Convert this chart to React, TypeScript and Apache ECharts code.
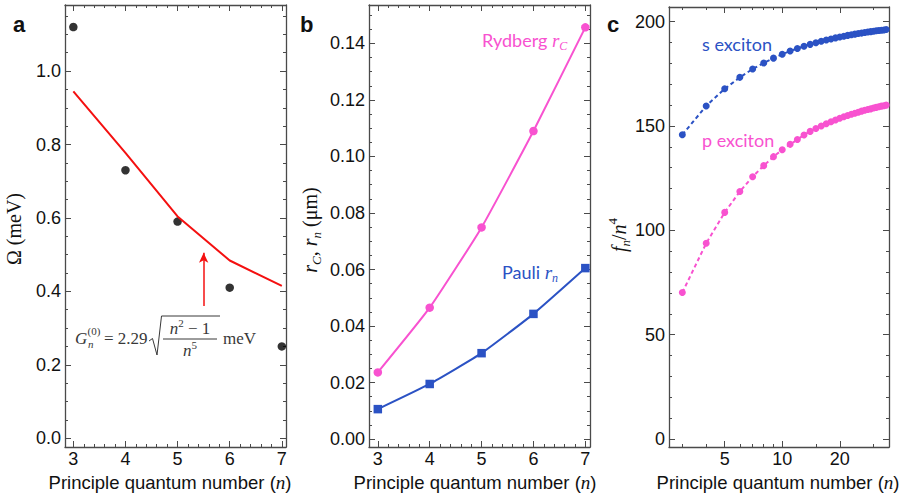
import { useEffect, useRef } from 'react';
import * as echarts from 'echarts';

// ---------- data ----------
const aN = [3, 4, 5, 6, 7];
const aOmega = [1.12, 0.73, 0.59, 0.41, 0.25];
const aG = [0.945, 0.777, 0.604, 0.484, 0.415];

const bN = [3, 4, 5, 6, 7];
const bRydberg = [0.0236, 0.0465, 0.0749, 0.109, 0.1457];
const bPauli = [0.0106, 0.0195, 0.0304, 0.0443, 0.0605];

const cN = [3, 4, 5, 6, 7, 8, 9, 10, 11, 12, 13, 14, 15, 16, 17, 18, 19, 20, 21, 22, 23, 24, 25, 26, 27, 28, 29, 30, 31, 32, 33, 34, 35];
const cS = [145.8, 159.6, 167.8, 173.3, 177.3, 180.2, 182.5, 184.4, 185.9, 187.1, 188.2, 189.1, 189.9, 190.6, 191.2, 191.7, 192.2, 192.6, 193.0, 193.4, 193.7, 194.0, 194.3, 194.5, 194.8, 195.0, 195.2, 195.4, 195.6, 195.7, 195.9, 196.0, 196.2];
const cP = [70.2, 93.8, 108.6, 118.6, 125.7, 131.0, 135.3, 138.6, 141.2, 143.5, 145.7, 147.4, 148.8, 150.0, 151.1, 152.0, 152.9, 153.7, 154.4, 155.0, 155.6, 156.1, 156.6, 157.1, 157.5, 157.9, 158.2, 158.6, 158.9, 159.2, 159.5, 159.7, 160.0];

const aXTicks = [3, 4, 5, 6, 7];
const aYTicks = [0, 0.2, 0.4, 0.6, 0.8, 1.0];
const bXTicks = [3, 4, 5, 6, 7];
const bYTicks = [0, 0.02, 0.04, 0.06, 0.08, 0.1, 0.12, 0.14];
const cXTicks = [5, 10, 20];
const cXMinorTicks = [3, 4, 6, 7, 8, 9, 15, 30];
const cYTicks = [0, 50, 100, 150, 200];

// ---------- style ----------
const FRAME = '#4a4a4a';
const BLUE = '#2B52C4';
const PINK = '#F852D0';
const RED = '#F41010';
const SANS = '"Liberation Sans", Arial, sans-serif';
const SERIF = '"Liberation Serif", "Times New Roman", serif';
const HUM = 'Lato, "Open Sans", sans-serif';

function steps(lo: number, hi: number, step: number): number[] {
  const out: number[] = [];
  const n = Math.round((hi - lo) / step);
  for (let i = 0; i <= n; i++) out.push(+(lo + i * step).toFixed(6));
  return out;
}

function axisSet(kind: 'x' | 'y', grid: number, min: number, max: number, major: number[], minor: number[], fmt: (v: number) => string) {
  const pos = kind === 'x' ? ['bottom', 'top'] : ['left', 'right'];
  const res: any[] = [];
  pos.forEach((p, idx) => {
    const primary = idx === 0;
    res.push({
      type: 'value', gridIndex: grid, position: p, min, max,
      axisLine: { show: true, onZero: false, lineStyle: { color: FRAME, width: 1.3 } },
      axisTick: { show: true, inside: true, length: 6, customValues: major, lineStyle: { color: FRAME, width: 1 } },
      axisLabel: {
        show: primary, customValues: major, formatter: fmt,
        margin: kind === 'x' ? 3 : 4, color: '#111', fontSize: 18, fontFamily: SANS,
      },
      splitLine: { show: false },
    });
    res.push({
      type: 'value', gridIndex: grid, position: p, min, max,
      axisLine: { show: false, onZero: false },
      axisTick: { show: true, inside: true, length: 3, customValues: minor, lineStyle: { color: FRAME, width: 1 } },
      axisLabel: { show: false },
      splitLine: { show: false },
    });
  });
  return res;
}

const INK = '#111';
const richBase = {
  n: { fontFamily: SERIF, fontSize: 20, fill: INK, lineHeight: 26 },
  i: { fontFamily: SERIF, fontSize: 20, fontStyle: 'italic', fill: INK, lineHeight: 26 },
  sub: { fontFamily: SERIF, fontSize: 13, fontStyle: 'italic', fill: INK, lineHeight: 14, verticalAlign: 'bottom' },
  sup: { fontFamily: SERIF, fontSize: 13, fill: INK, lineHeight: 14, verticalAlign: 'top' },
};

function xName(cx: number) {
  return {
    type: 'text', x: cx, y: 482,
    style: {
      text: '{s|Principle quantum number (}{i|n}{s|)}',
      align: 'center', verticalAlign: 'middle',
      rich: {
        s: { fontFamily: SANS, fontSize: 18.5, fill: INK, lineHeight: 24 },
        i: { fontFamily: SERIF, fontSize: 19, fontStyle: 'italic', fill: INK, lineHeight: 24 },
      },
    },
  };
}

function yName(cx: number, cy: number, text: string) {
  return {
    type: 'text', x: cx, y: cy, rotation: Math.PI / 2,
    style: { text, align: 'center', verticalAlign: 'middle', rich: richBase },
  };
}

function letter(x: number, t: string) {
  return { type: 'text', x, y: 24, style: { text: t, font: `bold 22px ${SANS}`, fill: INK, verticalAlign: 'middle' } };
}

const FC = '#383838';
const formula = [
  { type: 'text', x: 75, y: 338, style: { text: 'G', font: `italic 17px ${SERIF}`, fill: FC, verticalAlign: 'middle' } },
  { type: 'text', x: 87.5, y: 331, style: { text: '(0)', font: `11px ${SERIF}`, fill: FC, verticalAlign: 'middle' } },
  { type: 'text', x: 88, y: 344, style: { text: 'n', font: `italic 11px ${SERIF}`, fill: FC, verticalAlign: 'middle' } },
  { type: 'text', x: 104, y: 338, style: { text: '= 2.29', font: `17px ${SERIF}`, fill: FC, verticalAlign: 'middle' } },
  { type: 'polyline', shape: { points: [[149, 341], [152.5, 338.5], [157, 355], [161.5, 316], [220, 316]] }, style: { stroke: FC, lineWidth: 1, fill: 'none' } },
  {
    type: 'text', x: 190, y: 328,
    style: {
      text: '{i|n}{sup|2}{r| − 1}', align: 'center', verticalAlign: 'middle',
      rich: {
        i: { fontFamily: SERIF, fontStyle: 'italic', fontSize: 17, fill: FC, lineHeight: 22 },
        sup: { fontFamily: SERIF, fontSize: 11, fill: FC, lineHeight: 12, verticalAlign: 'top' },
        r: { fontFamily: SERIF, fontSize: 17, fill: FC, lineHeight: 22 },
      },
    },
  },
  { type: 'line', shape: { x1: 163, y1: 339, x2: 217, y2: 339 }, style: { stroke: FC, lineWidth: 1 } },
  {
    type: 'text', x: 190, y: 350,
    style: {
      text: '{i|n}{sup|5}', align: 'center', verticalAlign: 'middle',
      rich: {
        i: { fontFamily: SERIF, fontStyle: 'italic', fontSize: 17, fill: FC, lineHeight: 22 },
        sup: { fontFamily: SERIF, fontSize: 11, fill: FC, lineHeight: 12, verticalAlign: 'top' },
      },
    },
  },
  { type: 'text', x: 223, y: 338, style: { text: 'meV', font: `17px ${SERIF}`, fill: FC, verticalAlign: 'middle' } },
];

function seriesLabel(x: number, y: number, text: string, color: string) {
  return {
    type: 'text', x, y,
    style: {
      text, verticalAlign: 'middle', fill: color,
      rich: {
        t: { fontFamily: HUM, fontSize: 18, fill: color, lineHeight: 24 },
        i: { fontFamily: SERIF, fontStyle: 'italic', fontSize: 19, fill: color, lineHeight: 24 },
        sub: { fontFamily: SERIF, fontStyle: 'italic', fontSize: 12, fill: color, lineHeight: 12, verticalAlign: 'bottom' },
      },
    },
  };
}

export default function App() {
  const ref = useRef<HTMLDivElement>(null);
  useEffect(() => {
    if (!ref.current) return;
    const chart = echarts.init(ref.current, undefined, { renderer: 'svg' });
    const f1 = (v: number) => v.toFixed(1);
    const f2 = (v: number) => v.toFixed(2);
    const f0 = (v: number) => String(Math.round(v));
    const flog = (v: number) => String(Math.round(Math.pow(10, v)));

    const xAxis = [
      ...axisSet('x', 0, 2.84, 7.08, aXTicks, steps(3, 7, 0.2), f0),
      ...axisSet('x', 1, 2.83, 7.09, bXTicks, steps(3, 7, 0.2), f0),
      ...axisSet('x', 2, Math.log10(2.555), Math.log10(36.2), cXTicks.map(Math.log10), cXMinorTicks.map(Math.log10), flog),
    ];
    const yAxis = [
      ...axisSet('y', 0, -0.024, 1.18, aYTicks, steps(0, 1.15, 0.05), f1),
      ...axisSet('y', 1, -0.0028, 0.1536, bYTicks, steps(0, 0.15, 0.005), f2),
      ...axisSet('y', 2, -3.8, 207, cYTicks, steps(0, 200, 10), f0),
    ];

    const option: any = {
      animation: false,
      backgroundColor: '#fff',
      grid: [
        { left: 65, width: 221, top: 5, bottom: 51 },
        { left: 369, width: 221, top: 5, bottom: 51 },
        { left: 669, width: 220, top: 7, bottom: 51 },
      ],
      xAxis,
      yAxis,
      series: [
        {
          type: 'line', xAxisIndex: 0, yAxisIndex: 0,
          data: aN.map((n, i) => [n, aG[i]]),
          showSymbol: false, symbol: 'none',
          lineStyle: { color: RED, width: 2 },
          markLine: {
            silent: true, symbol: ['none', 'arrow'], symbolSize: [7, 10],
            label: { show: false },
            lineStyle: { color: RED, width: 1.5, type: 'solid' },
            data: [[{ coord: [5.5, 0.36] }, { coord: [5.5, 0.505] }]],
          },
        },
        {
          type: 'scatter', xAxisIndex: 0, yAxisIndex: 0,
          data: aN.map((n, i) => [n, aOmega[i]]),
          symbol: 'circle', symbolSize: 8.5, itemStyle: { color: '#000' },
        },
        {
          type: 'line', xAxisIndex: 4, yAxisIndex: 4,
          data: bN.map((n, i) => [n, bRydberg[i]]),
          smooth: 0.15, symbol: 'circle', symbolSize: 8.5,
          lineStyle: { color: PINK, width: 2 }, itemStyle: { color: PINK },
        },
        {
          type: 'line', xAxisIndex: 4, yAxisIndex: 4,
          data: bN.map((n, i) => [n, bPauli[i]]),
          smooth: 0.15, symbol: 'rect', symbolSize: 8.5,
          lineStyle: { color: BLUE, width: 2 }, itemStyle: { color: BLUE },
        },
        {
          type: 'line', xAxisIndex: 8, yAxisIndex: 8,
          data: cN.map((n, i) => [Math.log10(n), cS[i]]),
          symbol: 'circle', symbolSize: 7,
          lineStyle: { color: BLUE, width: 2, type: [4, 3] }, itemStyle: { color: BLUE },
        },
        {
          type: 'line', xAxisIndex: 8, yAxisIndex: 8,
          data: cN.map((n, i) => [Math.log10(n), cP[i]]),
          symbol: 'circle', symbolSize: 7,
          lineStyle: { color: PINK, width: 2, type: [4, 3] }, itemStyle: { color: PINK },
        },
      ],
      graphic: [
        letter(13, 'a'), letter(300, 'b'), letter(607, 'c'),
        xName(170), xName(475), xName(778),
        {
          type: 'text', x: 14, y: 229, rotation: Math.PI / 2,
          style: { text: 'Ω (meV)', font: `20px ${SERIF}`, fill: INK, align: 'center', verticalAlign: 'middle' },
        },
        yName(310, 230, '{i|r}{sub|C}{n|, }{i|r}{sub|n}{n| (μm)}'),
        yName(619, 235, '{i|f}{sub|n}{n|/}{i|n}{sup|4}'),
        ...formula,
        seriesLabel(482, 40, '{t|Rydberg }{i|r}{sub|C}', PINK),
        seriesLabel(502, 272, '{t|Pauli }{i|r}{sub|n}', BLUE),
        seriesLabel(702, 44, '{t|s exciton}', BLUE),
        seriesLabel(702, 140, '{t|p exciton}', PINK),
      ],
    };
    chart.setOption(option);
    return () => chart.dispose();
  }, []);
  return <div ref={ref} style={{ position: 'fixed', left: 0, top: 0, width: 914, height: 498 }} />;
}
